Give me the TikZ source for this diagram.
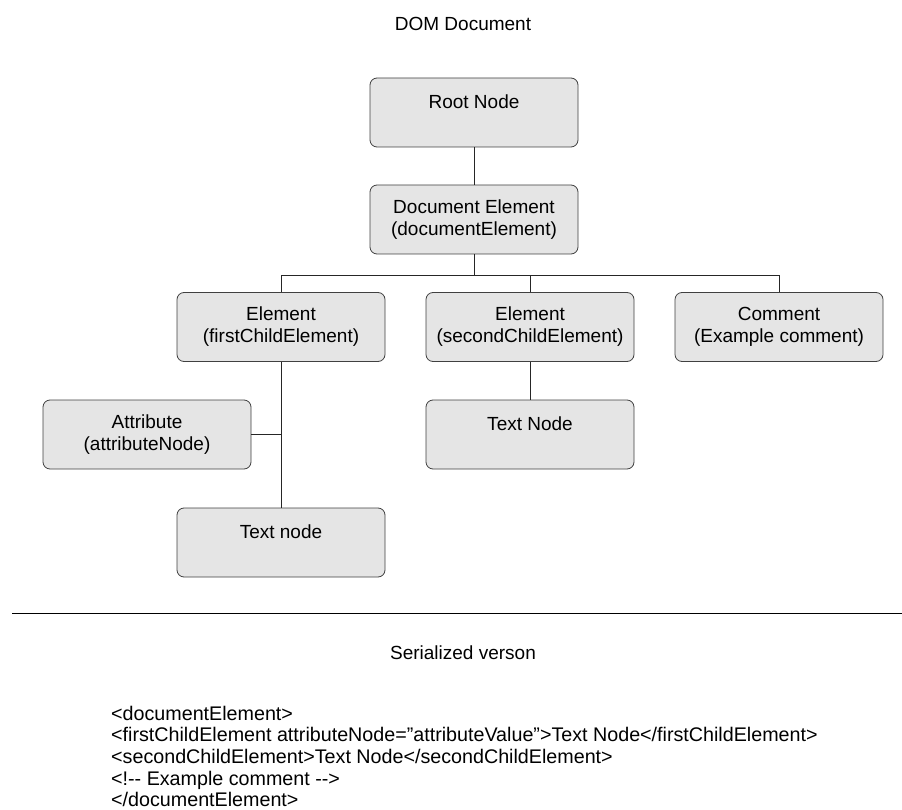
\documentclass[tikz,border=0pt]{standalone}
\usepackage{fontspec}
\setmainfont{Liberation Sans}
\newfontfamily\codefont{Liberation Sans}
\begin{document}
\begin{tikzpicture}[x=1pt, y=-1pt, every node/.style={font=\fontsize{19}{22}\selectfont},
	domnode/.style={draw=black!75, fill=black!10, rounded corners=7pt, line width=0.8pt,
		minimum width=208pt, minimum height=69pt, align=center, inner sep=0pt},
	link/.style={draw=black!85, line width=0.9pt}]
	\useasboundingbox (0,0) rectangle (902,810);
	
	% 标题
	\node (title) at (463,24) {DOM Document};
	
	% 树的节点
	\node[domnode] (root) at (474,112.5) {Root Node\\ \mbox{}};
	\node[domnode] (docel) at (474,219.5) {Document Element\\(documentElement)};
	\node[domnode] (first) at (281,327) {Element\\(firstChildElement)};
	\node[domnode] (second) at (530,327) {Element\\(secondChildElement)};
	\node[domnode] (comment) at (779,327) {Comment\\(Example comment)};
	\node[domnode] (attr) at (147,434.5) {Attribute\\(attributeNode)};
	\node[domnode] (text2) at (530,434.5) {Text Node\\ \mbox{}};
	\node[domnode] (text1) at (281,542.5) {Text node\\ \mbox{}};
	
	% 连线
	\coordinate (bus) at (0,275);
	\draw[link] (root) -- (docel);
	\draw[link] (docel.south) -- (docel.south |- bus);
	\draw[link] (first.north) -- (first.north |- bus) -- (comment.north |- bus) -- (comment.north);
	\draw[link] (second.north) -- (second.north |- bus);
	\draw[link] (first) -- (text1);
	\draw[link] (attr.east) -- (attr.east -| first);
	\draw[link] (second) -- (text2);
	
	% 分隔线
	\coordinate (sepL) at (12,613);
	\coordinate (sepR) at (902,613);
	\draw[black, line width=0.8pt] (sepL) -- (sepR);
	
	% 序列化结果
	\node (sertitle) at (463,653) {Serialized verson};
	\node[anchor=west, align=left, inner sep=0pt, font=\codefont\fontsize{19.7}{21.6}\selectfont] (code) at (111,756.5)
		{<documentElement>\\
		<firstChildElement attributeNode=”attributeValue”>Text Node</firstChildElement>\\
		<secondChildElement>Text Node</secondChildElement>\\
		<!-{}- Example comment -{}->\\
		</documentElement>};
\end{tikzpicture}
\end{document}
